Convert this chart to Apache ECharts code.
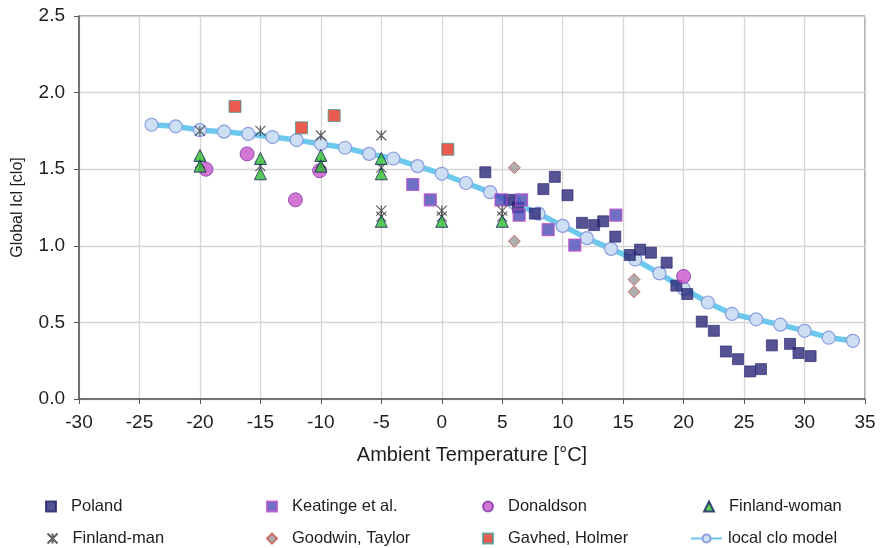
<!DOCTYPE html>
<html>
<head>
<meta charset="utf-8">
<script src="https://cdn.jsdelivr.net/npm/echarts@6/dist/echarts.min.js"></script>
<style>html,body{margin:0;padding:0;background:#fff}#c{width:882px;height:548px}</style>
</head>
<body>
<div id="c"></div>
<script>
// ---- data ----
const modelT = [-24,-22,-20,-18,-16,-14,-12,-10,-8,-6,-4,-2,0,2,4,6,8,10,12,14,16,18,20,22,24,26,28,30,32,34];
const modelClo = [1.79,1.78,1.755,1.745,1.73,1.71,1.69,1.665,1.64,1.60,1.57,1.52,1.47,1.41,1.35,1.28,1.21,1.13,1.05,0.98,0.91,0.82,0.72,0.63,0.555,0.52,0.485,0.445,0.40,0.38];

const polandT = [3.6,5.6,6.3,7.7,8.4,9.35,10.4,11.6,12.6,13.35,14.35,15.55,16.4,17.3,18.6,19.4,20.3,21.5,22.5,23.5,24.5,25.5,26.4,27.3,28.8,29.5,30.5];
const polandClo = [1.48,1.30,1.25,1.21,1.37,1.45,1.33,1.15,1.135,1.16,1.06,0.94,0.975,0.955,0.89,0.74,0.685,0.505,0.445,0.31,0.26,0.18,0.195,0.35,0.36,0.30,0.28];

const keatingeT = [-2.4,-0.95,4.9,6.6,6.4,8.8,11.0,14.4];
const keatingeClo = [1.40,1.30,1.30,1.30,1.20,1.105,1.005,1.20];

const donaldsonT = [-19.5,-16.1,-12.1,-10.1,20.0];
const donaldsonClo = [1.50,1.60,1.30,1.49,0.80];

const finWomanT = [-20,-20,-15,-15,-10,-10,-5,-5,-5,0,5];
const finWomanClo = [1.59,1.52,1.57,1.47,1.59,1.52,1.57,1.47,1.16,1.16,1.16];

const finManT = [-20,-20,-15,-15,-10,-10,-5,-5,-5,-5,0,0,5,5];
const finManClo = [1.75,1.54,1.75,1.52,1.72,1.54,1.72,1.51,1.23,1.19,1.23,1.19,1.23,1.19];

const goodwinT = [6.0,6.0,15.9,15.9];
const goodwinClo = [1.51,1.03,0.78,0.70];

const gavhedT = [-17.1,-11.6,-8.9,0.5];
const gavhedClo = [1.91,1.77,1.85,1.63];

const xTicks = {min:-30, max:35, step:5};
const yTicks = {min:0, max:2.5, step:0.5};

// ---- helpers ----
const pairs = (a,b) => a.map((v,i)=>[v,b[i]]);
const starPath = 'path://M0,0L10,10M10,0L0,10M5,0L5,10';

const chart = echarts.init(document.getElementById('c'), null, {renderer:'canvas'});
const txt = '#1e1e1e';
const font = 'Liberation Sans, Arial, sans-serif';

function leg(name, center, top, w) {
  const iw = w || 10;
  return {
    data:[name], left: w ? center : center - iw/2, top:top, orient:'horizontal',
    itemWidth: iw, itemHeight: 10, padding:0,
    textStyle:{fontSize:16.5, color:txt, fontFamily:font, padding:[0,0,0, w ? 1 : 10]},
    selectedMode:false
  };
}

const option = {
  backgroundColor:'#fff',
  animation:false,
  textStyle:{fontFamily:font},
  grid:{left:79, right:17, top:16, bottom:149, show:true, borderColor:'#555', borderWidth:1},
  legend:[
    leg('Poland',50,498),
    leg('Keatinge et al.',271,498),
    leg('Donaldson',487,498),
    leg('Finland-woman',708,498),
    leg('Finland-man',50,530),
    leg('Goodwin, Taylor',271,530),
    leg('Gavhed, Holmer',487,530),
    leg('local clo model',690,530,31)
  ],
  xAxis:{
    type:'value', min:xTicks.min, max:xTicks.max, interval:xTicks.step,
    name:'Ambient Temperature [°C]', nameLocation:'middle', nameGap:46,
    nameTextStyle:{fontSize:20, color:txt},
    axisLine:{show:true, onZero:false, lineStyle:{color:'#555', width:1.5}},
    axisTick:{show:true, length:5, lineStyle:{color:'#555'}},
    axisLabel:{fontSize:19, color:txt, margin:14},
    splitLine:{show:true, lineStyle:{color:'#d6d6d6', width:1.3}}
  },
  yAxis:{
    type:'value', min:yTicks.min, max:yTicks.max, interval:yTicks.step,
    name:'Global Icl [clo]', nameLocation:'middle', nameGap:53,
    nameTextStyle:{fontSize:16, color:txt},
    axisLine:{show:true, onZero:false, lineStyle:{color:'#555', width:1.5}},
    axisTick:{show:true, length:5, lineStyle:{color:'#555'}},
    axisLabel:{fontSize:19, color:txt, margin:14, formatter:v=>v.toFixed(1)},
    splitLine:{show:true, lineStyle:{color:'#d6d6d6', width:1.3}}
  },
  series:[
    {name:'local clo model', type:'line', data:pairs(modelT,modelClo), symbol:'circle', symbolSize:13,
     lineStyle:{color:'#6cc8ec', width:5.5},
     itemStyle:{color:'#cddff3', borderColor:'#8b9ce0', borderWidth:1.2}, z:2},
    {name:'Poland', type:'scatter', data:pairs(polandT,polandClo), symbol:'rect', symbolSize:11,
     itemStyle:{color:'#2b2878', borderColor:'#22206a', borderWidth:0.8}, z:3},
    {name:'Keatinge et al.', type:'scatter', data:pairs(keatingeT,keatingeClo), symbol:'rect', symbolSize:12,
     itemStyle:{color:'#4a4cb8', borderColor:'#c24cc6', borderWidth:1.2}, z:3},
    {name:'Donaldson', type:'scatter', data:pairs(donaldsonT,donaldsonClo), symbol:'circle', symbolSize:14,
     itemStyle:{color:'#c955c9', borderColor:'#7d35a8', borderWidth:1}, z:3},
    {name:'Finland-man', type:'scatter', data:pairs(finManT,finManClo), symbol:starPath, symbolSize:10,
     itemStyle:{color:'none', borderColor:'#3a3a3a', borderWidth:1.2}, z:4},
    {name:'Finland-woman', type:'scatter', data:pairs(finWomanT,finWomanClo), symbol:'triangle', symbolSize:12,
     itemStyle:{color:'#2fbf2f', borderColor:'#1c1c66', borderWidth:1}, z:5},
    {name:'Goodwin, Taylor', type:'scatter', data:pairs(goodwinT,goodwinClo), symbol:'diamond', symbolSize:12,
     itemStyle:{color:'#9a9a9a', borderColor:'#c8574f', borderWidth:1}, z:5},
    {name:'Gavhed, Holmer', type:'scatter', data:pairs(gavhedT,gavhedClo), symbol:'rect', symbolSize:12,
     itemStyle:{color:'#e23222', borderColor:'#4b9a96', borderWidth:1}, z:5}
  ]
};
chart.setOption(option);
</script>
</body>
</html>
